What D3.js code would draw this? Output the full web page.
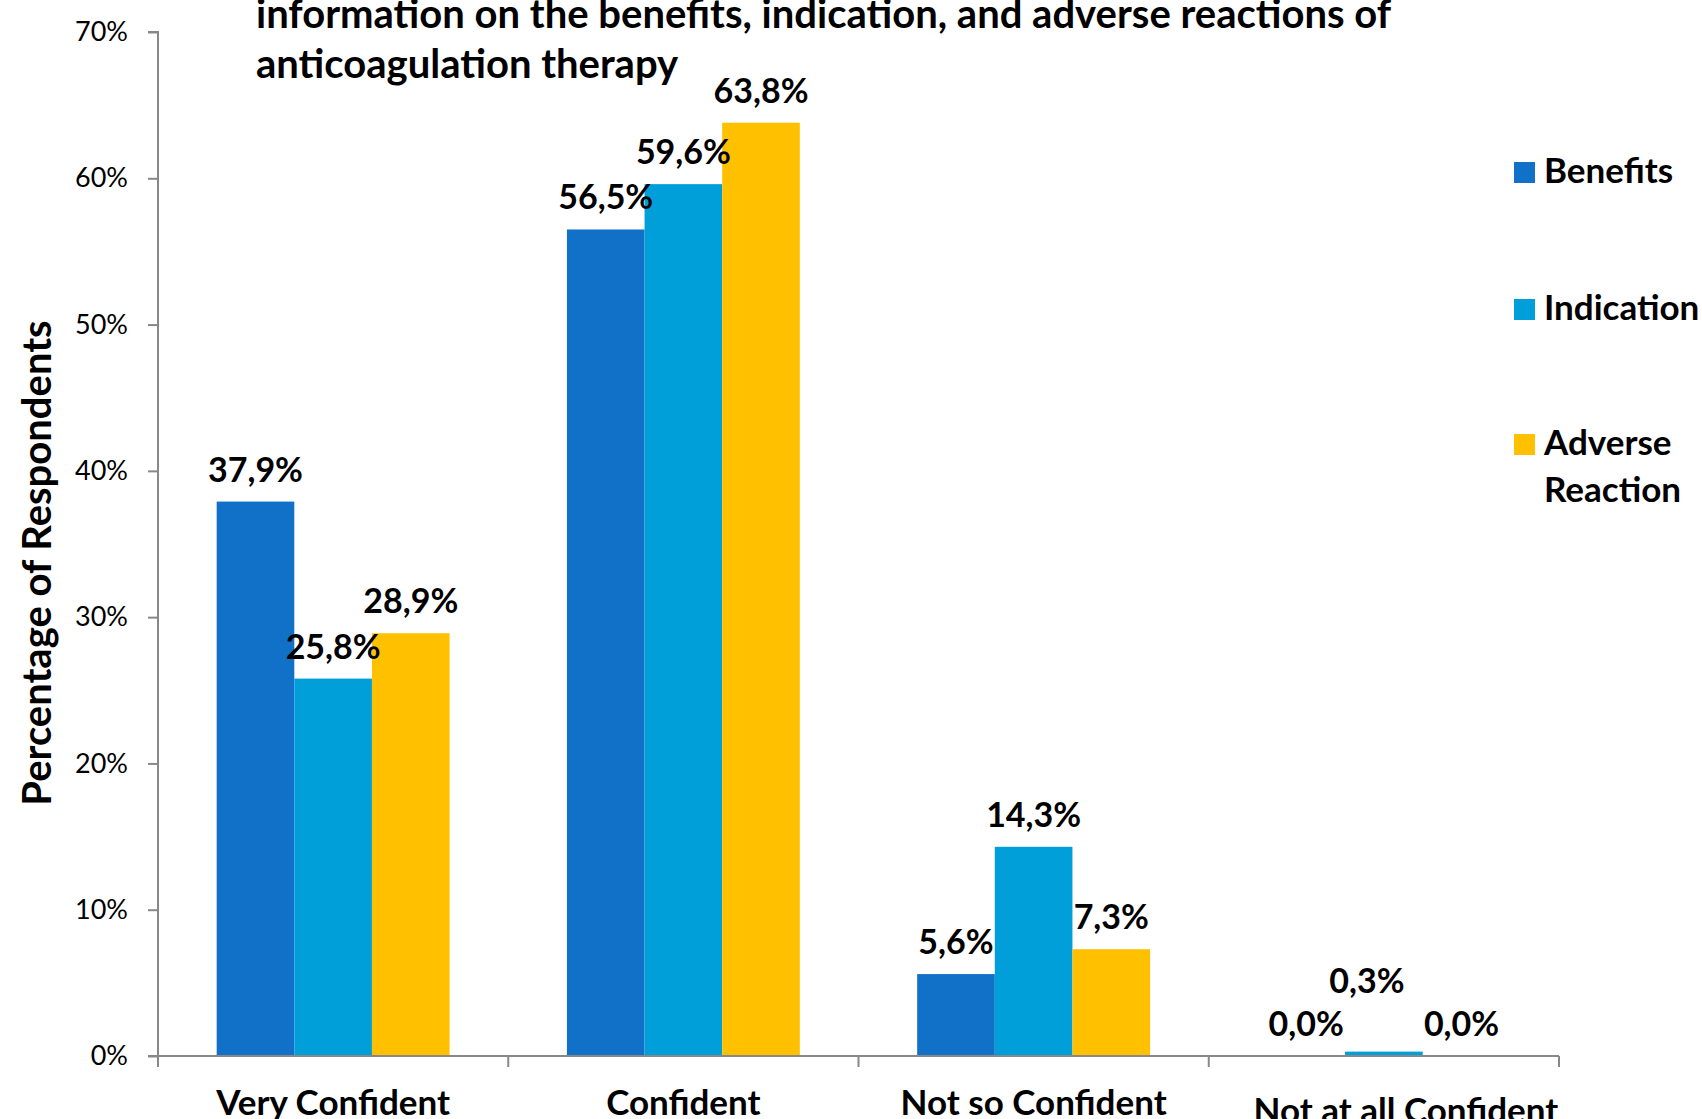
<!DOCTYPE html>
<html>
<head>
<meta charset="utf-8">
<script src="https://cdn.jsdelivr.net/npm/d3@7"></script>
<style>
  html, body { margin: 0; padding: 0; background: #fff; }
  svg { display: block; }
  text { font-family: Lato, "Open Sans", sans-serif; fill: #000; }
</style>
</head>
<body>
<svg id="chart" width="1702" height="1119"></svg>
<script>
const categories = ["Very Confident", "Confident", "Not so Confident", "Not at all Confident"];
const seriesNames = ["Benefits", "Indication", "Adverse Reaction"];
const benefits   = [37.9, 56.5, 5.6, 0.0];
const indication = [25.8, 59.6, 14.3, 0.3];
const adverse    = [28.9, 63.8, 7.3, 0.0];
const yTicks = [0, 10, 20, 30, 40, 50, 60, 70];
const titleLines = [
  "information on the benefits, indication, and adverse reactions of",
  "anticoagulation therapy"
];
const yTitle = "Percentage of Respondents";

const colors = ["#1170C8", "#009FDA", "#FFC000"];
const seriesValues = [benefits, indication, adverse];

const svg = d3.select("#chart");
const plotLeft = 158, plotRight = 1559, plotTop = 32, plotBottom = 1056;

const x0 = d3.scaleBand().domain(categories).range([plotLeft, plotRight]).paddingInner(0).paddingOuter(0);
const groupFrac = 233 / 350.4;
const x1 = d3.scaleBand().domain(seriesNames)
  .range([0, x0.bandwidth() * groupFrac]);
const groupOffset = x0.bandwidth() * (1 - groupFrac) / 2;
const y = d3.scaleLinear().domain([0, 70]).range([plotBottom, plotTop]);

const fmt = v => v.toFixed(1).replace(".", ",") + "%";

// bars
const data = [];
categories.forEach((c, ci) => {
  seriesNames.forEach((s, si) => {
    data.push({cat: c, ci, series: s, si, value: seriesValues[si][ci]});
  });
});

svg.append("g").selectAll("rect").data(data).join("rect")
  .attr("x", d => x0(d.cat) + groupOffset + x1(d.series))
  .attr("width", x1.bandwidth())
  .attr("y", d => y(d.value))
  .attr("height", d => y(0) - y(d.value))
  .attr("fill", d => colors[d.si]);

// y axis
const yAxis = d3.axisLeft(y).tickValues(yTicks).tickFormat(d => d + "%").tickSize(10).tickPadding(20);
const gy = svg.append("g").attr("transform", `translate(${plotLeft},0)`).call(yAxis);
gy.select(".domain").attr("stroke", "#888").attr("stroke-width", 2).attr("d", `M-10,${plotTop}H0V${plotBottom}`);
gy.selectAll(".tick line").attr("stroke", "#888").attr("stroke-width", 2);
gy.selectAll(".tick text").style("font-family", "Lato").style("font-size", "27px").attr("fill", "#000");

// x axis
const xAxis = d3.axisBottom(x0).tickSize(0).tickPadding(0);
const gx = svg.append("g").attr("transform", `translate(0,${plotBottom})`).call(xAxis);
gx.select(".domain").attr("stroke", "#888").attr("stroke-width", 2).attr("d", `M${plotLeft - 10},0H${plotRight}`);
const bounds = categories.map(c => x0(c)).concat([plotRight]);
gx.selectAll(".bound").data(bounds).join("line").attr("class", "bound")
  .attr("x1", d => d).attr("x2", d => d).attr("y1", 0).attr("y2", 11)
  .attr("stroke", "#888").attr("stroke-width", 2);
gx.selectAll(".tick text")
  .style("font-family", "Lato").style("font-size", "35px").style("font-weight", "bold")
  .attr("fill", "#000").attr("dy", null)
  .attr("x", (d, i) => i === 3 ? 22 : 0)
  .attr("y", (d, i) => i === 3 ? 67 : 59);

// data labels
svg.append("g").selectAll("text").data(data).join("text")
  .attr("x", d => x0(d.cat) + groupOffset + x1(d.series) + x1.bandwidth() / 2 - (d.ci === 3 && d.value > 0 ? 17 : 0))
  .attr("y", d => y(d.value) - 20 - (d.ci === 3 && d.value > 0 ? 39 : 0))
  .attr("text-anchor", "middle")
  .style("font-size", "34px").style("font-weight", "bold")
  .text(d => fmt(d.value));

// title
svg.append("g").selectAll("text").data(titleLines).join("text")
  .attr("x", 256).attr("y", (d, i) => 28 + i * 50)
  .style("font-size", "40px").style("font-weight", "bold")
  .text(d => d);

// y title
svg.append("text")
  .attr("transform", "translate(51,563) rotate(-90)")
  .attr("text-anchor", "middle")
  .style("font-size", "40px").style("font-weight", "bold")
  .text(yTitle);

// legend
const legendY = [183, 320, 455];
const lg = svg.append("g").selectAll("g").data(seriesNames).join("g")
  .attr("transform", (d, i) => `translate(1514,${legendY[i]})`);
lg.append("rect").attr("x", 0).attr("y", -21).attr("width", 21).attr("height", 21)
  .attr("fill", (d, i) => colors[i]);
lg.append("text").attr("x", 30).attr("y", 0)
  .style("font-size", "35px").style("font-weight", "bold")
  .each(function(d) {
    const words = d.split(" ");
    const t = d3.select(this);
    words.forEach((w, i) => {
      t.append("tspan").attr("x", 30).attr("dy", i === 0 ? 0 : 47).text(w);
    });
  });
</script>
</body>
</html>
